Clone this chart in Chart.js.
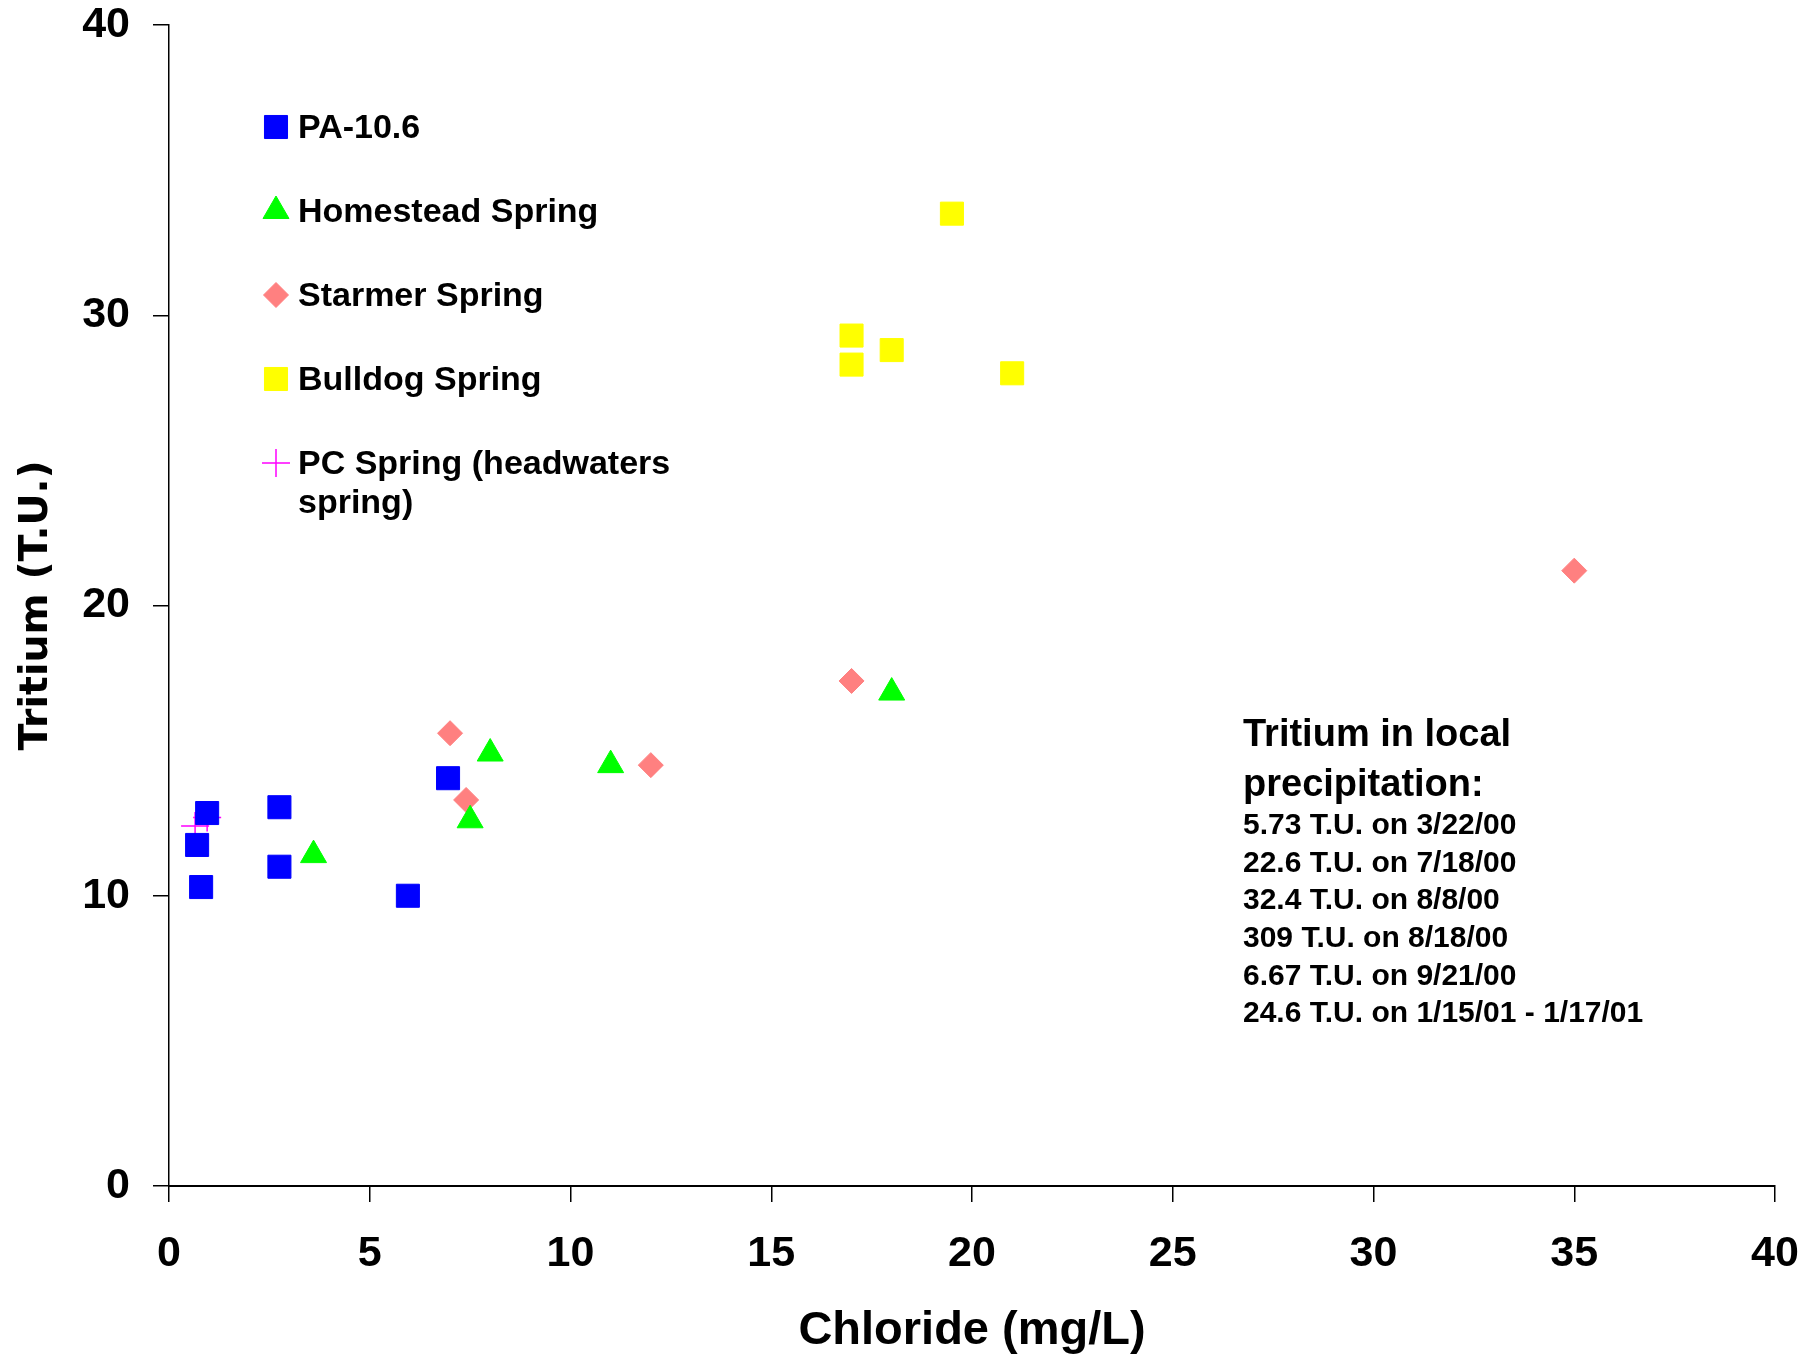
<!DOCTYPE html>
<html>
<head>
<meta charset="utf-8">
<script src="https://cdn.jsdelivr.net/npm/chart.js@4.4.1/dist/chart.umd.min.js"></script>
<style>
  html, body { margin: 0; padding: 0; background: #fff; }
  canvas { display: block; }
</style>
</head>
<body>
<canvas id="chart" width="1806" height="1361"></canvas>
<script>
// chloride (mg/L) vs tritium (T.U.)
const paX = [0.7, 0.8, 0.95, 2.75, 2.75, 5.95, 6.95];
const paY = [11.75, 10.3, 12.85, 13.05, 11.0, 10.0, 14.05];

const homesteadX = [3.6, 7.5, 8.0, 11.0, 18.0];
const homesteadY = [11.4, 12.6, 14.9, 14.5, 17.0];

const starmerX = [7.0, 7.4, 12.0, 17.0, 35.0];
const starmerY = [15.6, 13.3, 14.5, 17.4, 21.2];

const bulldogX = [19.5, 17.0, 17.0, 18.0, 21.0];
const bulldogY = [33.5, 29.3, 28.3, 28.8, 28.0];

const pcX = [0.65, 0.95];
const pcY = [12.4, 12.7];

const seriesNames = [
  ["PA-10.6"],
  ["Homestead Spring"],
  ["Starmer Spring"],
  ["Bulldog Spring"],
  ["PC Spring (headwaters", "spring)"],
];

const noteTitle = ["Tritium in local", "precipitation:"];
const noteLines = [
  "5.73 T.U. on 3/22/00",
  "22.6 T.U. on 7/18/00",
  "32.4 T.U. on 8/8/00",
  "309 T.U. on 8/18/00",
  "6.67 T.U. on 9/21/00",
  "24.6 T.U. on 1/15/01 - 1/17/01",
];

const xTicks = [0, 5, 10, 15, 20, 25, 30, 35, 40];
const yTicks = [0, 10, 20, 30, 40];

const ARIAL = "'Liberation Sans', Arial, sans-serif";

function toPoints(xs, ys) {
  return xs.map((x, i) => ({ x: x, y: ys[i] }));
}

// legend drawn inside the plot + the precipitation note
const overlayPlugin = {
  id: "overlay",
  afterDraw(chart) {
    const ctx = chart.ctx;
    ctx.save();
    let y = 127;
    chart.data.datasets.forEach((ds, i) => {
      ctx.fillStyle = ds.backgroundColor;
      ctx.strokeStyle = ds.borderColor;
      ctx.lineWidth = ds.borderWidth;
      Chart.helpers.drawPoint(ctx, {
        pointStyle: ds.pointStyle,
        radius: ds.pointRadius,
        rotation: 0,
        borderWidth: ds.borderWidth,
      }, 276, y);

      ctx.fillStyle = "#000";
      ctx.font = "bold 34px " + ARIAL;
      ctx.textBaseline = "middle";
      ctx.textAlign = "left";
      seriesNames[i].forEach((line, j) => {
        ctx.fillText(line, 298, y + 2 + j * 39);
      });
      y += 84;
    });

    ctx.font = "bold 38px " + ARIAL;
    noteTitle.forEach((line, j) => {
      ctx.fillText(line, 1243, 736 + j * 49.5);
    });
    ctx.font = "bold 30px " + ARIAL;
    noteLines.forEach((line, j) => {
      ctx.fillText(line, 1243, 826 + j * 37.6);
    });
    ctx.restore();
  },
};

new Chart(document.getElementById("chart").getContext("2d"), {
  type: "scatter",
  data: {
    datasets: [
      {
        label: seriesNames[0].join(" "),
        data: toPoints(paX, paY),
        pointStyle: "rect",
        pointRadius: 16.3,
        backgroundColor: "#0000FF",
        borderColor: "#0000FF",
        borderWidth: 1,
      },
      {
        label: seriesNames[1].join(" "),
        data: toPoints(homesteadX, homesteadY),
        pointStyle: "triangle",
        pointRadius: 15,
        backgroundColor: "#00FF00",
        borderColor: "#00FF00",
        borderWidth: 1,
      },
      {
        label: seriesNames[2].join(" "),
        data: toPoints(starmerX, starmerY),
        pointStyle: "rectRot",
        pointRadius: 12.5,
        backgroundColor: "#FF8080",
        borderColor: "#FF8080",
        borderWidth: 1,
      },
      {
        label: seriesNames[3].join(" "),
        data: toPoints(bulldogX, bulldogY),
        pointStyle: "rect",
        pointRadius: 16.3,
        backgroundColor: "#FFFF00",
        borderColor: "#FFFF00",
        borderWidth: 1,
      },
      {
        label: seriesNames[4].join(" "),
        data: toPoints(pcX, pcY),
        pointStyle: "cross",
        pointRadius: 14,
        backgroundColor: "#FF00FF",
        borderColor: "#FF00FF",
        borderWidth: 1.5,
      },
    ],
  },
  options: {
    responsive: false,
    animation: false,
    devicePixelRatio: 1,
    layout: { padding: { top: 25, right: 31, left: 0, bottom: 0 } },
    plugins: {
      legend: { display: false },
      tooltip: { enabled: false },
    },
    scales: {
      x: {
        type: "linear",
        min: 0,
        max: 40,
        afterFit: (scale) => {
          scale.height = 175;
          scale.paddingLeft = 0;
          scale.paddingRight = 0;
        },
        afterBuildTicks: (scale) => { scale.ticks = xTicks.map((v) => ({ value: v })); },
        border: { display: true, color: "#000", width: 2 },
        grid: { drawOnChartArea: false, drawTicks: true, tickLength: 16, color: "#000", lineWidth: 1.5 },
        ticks: {
          color: "#000",
          padding: 26,
          maxRotation: 0,
          font: { family: ARIAL, size: 43, weight: "bold" },
        },
        title: {
          display: true,
          text: "Chloride (mg/L)",
          color: "#000",
          padding: { top: 0, bottom: 2 },
          font: { family: ARIAL, size: 47, weight: "bold" },
        },
      },
      y: {
        type: "linear",
        min: 0,
        max: 40,
        afterFit: (scale) => {
          scale.width = 169;
          scale.paddingTop = 0;
          scale.paddingBottom = 0;
        },
        afterBuildTicks: (scale) => { scale.ticks = yTicks.map((v) => ({ value: v })); },
        border: { display: true, color: "#000", width: 1.5 },
        grid: { drawOnChartArea: false, drawTicks: true, tickLength: 16, color: "#000", lineWidth: 1.5 },
        ticks: {
          color: "#000",
          padding: 23,
          font: { family: ARIAL, size: 43, weight: "bold" },
        },
        title: {
          display: true,
          text: "Tritium (T.U.)",
          color: "#000",
          padding: { top: 13, bottom: 0 },
          font: { family: "'DejaVu Sans', Verdana, sans-serif", size: 39.5, weight: "bold" },
        },
      },
    },
  },
  plugins: [overlayPlugin],
});
</script>
</body>
</html>
